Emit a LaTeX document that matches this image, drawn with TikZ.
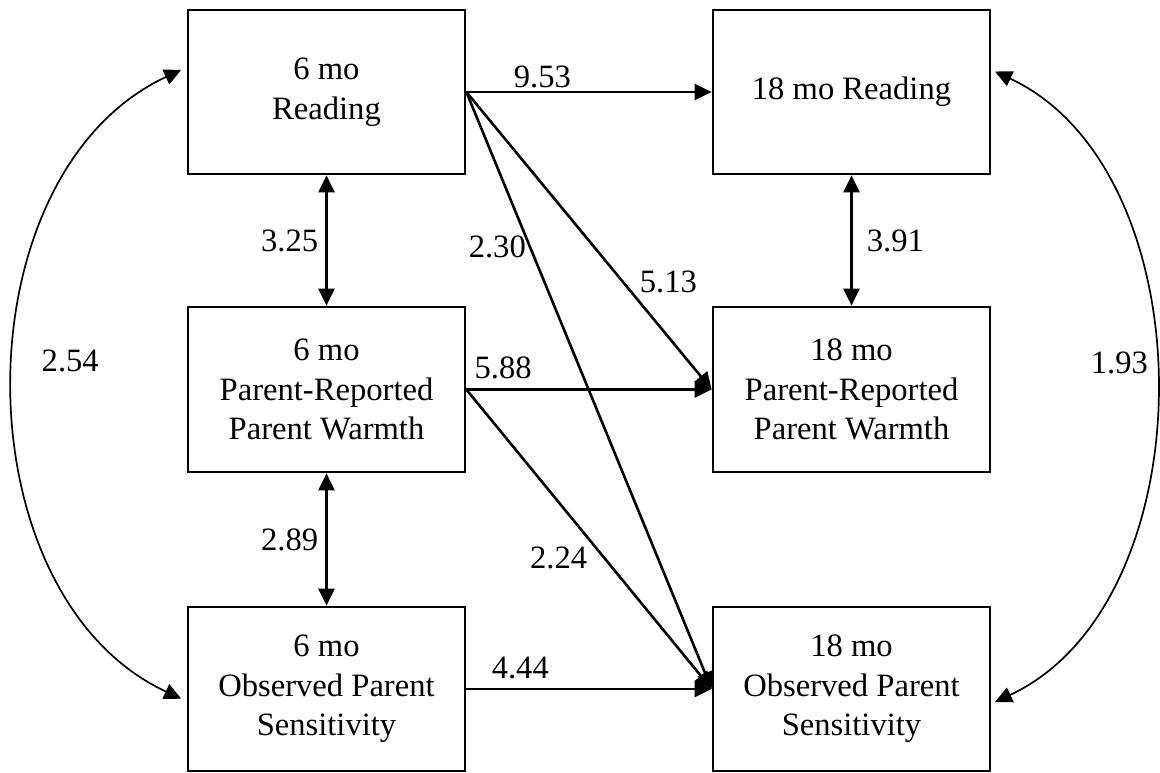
\documentclass[tikz,border=0pt]{standalone}
\usepackage{fontspec}
\setmainfont{Liberation Serif}
\usetikzlibrary{arrows.meta,positioning}

\tikzset{
  construct/.style={draw, line width=2.7pt, minimum width=277pt, minimum height=164pt, align=center, inner sep=2pt, font=\fontsize{32.6}{39.5}\selectfont},
  effect/.style={line width=2.6pt, -{Triangle[length=17pt,width=16pt]}},
  cov/.style={line width=2.6pt, {Triangle[length=17pt,width=16pt]}-{Triangle[length=17pt,width=16pt]}},
  coef/.style={font=\fontsize{32.6}{39.5}\selectfont, inner sep=3pt},
}

\begin{document}
\begin{tikzpicture}[x=1pt,y=1pt]
\useasboundingbox (0,0) rectangle (1160,773);
\node[construct] (r6) at (326.5,681) {6 mo\\Reading};
\node[construct, minimum height=165pt] (w6) at (326.5,383.5) {6 mo\\Parent-Reported\\Parent Warmth};
\node[construct] (s6) at (326.5,84) {6 mo\\Observed Parent\\Sensitivity};
\node[construct] (r18) at (851.5,681) {18 mo Reading};
\node[construct, minimum height=165pt] (w18) at (851.5,383.5) {18 mo\\Parent-Reported\\Parent Warmth};
\node[construct] (s18) at (851.5,84) {18 mo\\Observed Parent\\Sensitivity};
% paths
\draw[effect] (r6.east) -- (r18.west) node[coef, pos=0.31, anchor=south] {9.53};
\draw[effect] (w6.east) -- (w18.west) node[coef, pos=0.15, anchor=south, yshift=6pt] {5.88};
\draw[effect] (s6.east) -- (s18.west) node[coef, pos=0.22, anchor=south, yshift=6pt] {4.44};
\draw[effect] (r6.east) -- (w18.west) node[coef, pos=0.69, anchor=south west] {5.13};
\draw[effect] (r6.east) -- (s18.west) node[coef, pos=0.26, anchor=east] {2.30};
\draw[effect] (w6.east) -- (s18.west) node[coef, pos=0.51, anchor=north east] {2.24};
% covariances
\draw[cov] (r6) -- (w6) node[coef, midway, anchor=east, xshift=-4pt] {3.25};
\draw[cov] (w6) -- (s6) node[coef, midway, anchor=east, xshift=-4pt] {2.89};
\draw[cov] (r18) -- (w18) node[coef, midway, anchor=west, xshift=11pt] {3.91};
\draw[cov, line width=1.7pt, shorten <=6pt, shorten >=6pt] (r6.170) to[out=205, in=155, looseness=1.02] node[coef, pos=0.47, anchor=west, xshift=22pt] {2.54} (s6.185);
\draw[cov, line width=1.7pt, shorten <=4pt, shorten >=4pt] (r18.9) to[out=-25, in=25, looseness=0.97] node[coef, pos=0.47, anchor=east, xshift=-2pt] {1.93} (s18.354);
\end{tikzpicture}
\end{document}
